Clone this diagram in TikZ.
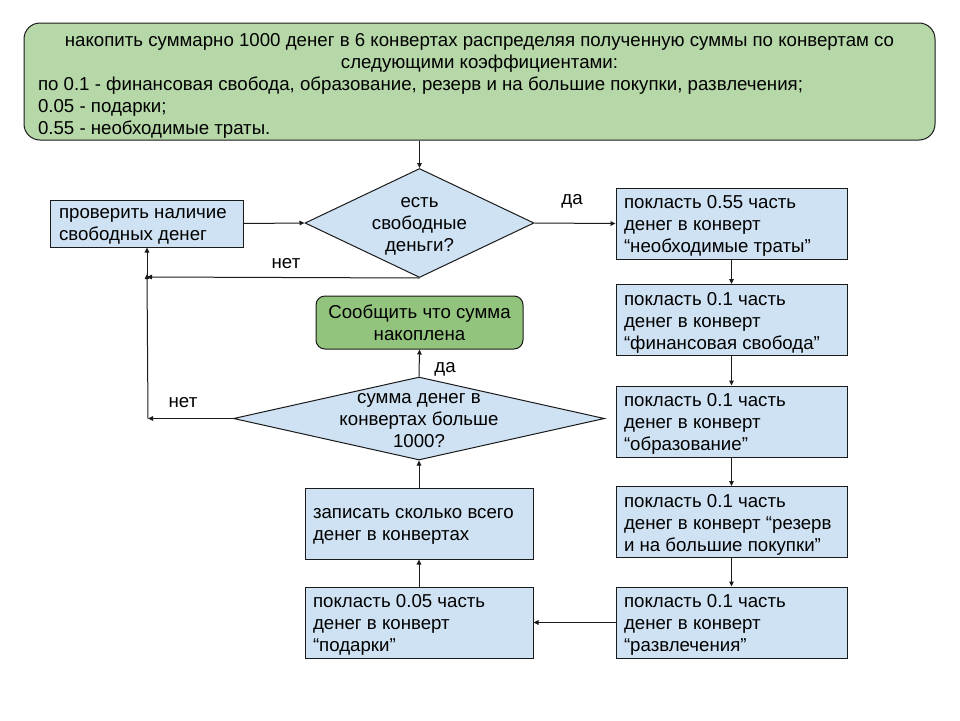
\documentclass[tikz,border=0pt]{standalone}
\usepackage{fontspec}
\setmainfont{Liberation Sans}
\usetikzlibrary{shapes.geometric,arrows.meta}
\definecolor{bluefill}{HTML}{CFE2F3}
\definecolor{greenfill}{HTML}{B6D7A8}
\definecolor{darkgreen}{HTML}{93C47D}
\definecolor{linec}{HTML}{1A1A1A}
\newcommand{\dfont}{\fontsize{18.67}{22}\selectfont}
\newcommand{\lowtext}[2]{\raisebox{-2.5pt}[\height][\depth]{\parbox{#1}{\dfont\raggedright #2}}}
\tikzset{
  every node/.style={font=\dfont},
  procbox/.style={draw=linec, line width=1pt, fill=bluefill, rectangle, inner xsep=8pt, inner ysep=0pt},
  decbox/.style={draw=linec, line width=1pt, fill=bluefill, diamond, inner sep=0pt},
  txt/.style={align=center, inner sep=0pt},
  conn/.style={draw=linec, line width=1pt, -{Triangle[length=5pt,width=4.5pt]}},
  lab/.style={inner sep=0pt},
}
\begin{document}
\begin{tikzpicture}[x=1pt,y=-1pt]
\useasboundingbox (0,0) rectangle (960,720);
\fill[white] (0,0) rectangle (960,720);

% top box
\node[draw=linec, line width=1pt, fill=greenfill, rounded corners=16pt, minimum width=911pt, minimum height=117pt, inner sep=0pt] (top) at (479.5,81.5) {};
\node[inner sep=0pt] (toptext) at (479.5,86) {\parbox{883pt}{\dfont\centering накопить суммарно 1000 денег в 6 конвертах распределяя полученную суммы по конвертам со\\ следующими коэффициентами:\par\raggedright по 0.1 - финансовая свобода, образование, резерв и на большие покупки, развлечения;\\ 0.05 - подарки;\\ 0.55 - необходимые траты.}};

% decision 1
\node[decbox, minimum width=229pt, minimum height=109pt] (d1) at (419.5,223) {};
\node[txt] (d1t) at (419.5,226) {есть\\свободные\\деньги?};

% check box
\node[procbox, minimum width=193pt, minimum height=47pt, inner xsep=9pt] (chk) at (146.5,223.5) {\lowtext{175pt}{проверить наличие\\свободных денег}};

% right column
\node[procbox, minimum width=231pt, minimum height=71pt] (b1) at (731.5,223.5) {\lowtext{215pt}{покласть 0.55 часть\\денег в конверт\\“необходимые траты”}};
\node[procbox, minimum width=231pt, minimum height=71pt] (b2) at (731.5,320) {\lowtext{215pt}{покласть 0.1 часть\\денег в конверт\\“финансовая свобода”}};
\node[procbox, minimum width=231pt, minimum height=71pt] (b3) at (731.5,421.5) {\lowtext{215pt}{покласть 0.1 часть\\денег в конверт\\“образование”}};
\node[procbox, minimum width=231pt, minimum height=71pt] (b4) at (731.5,522) {\lowtext{215pt}{покласть 0.1 часть\\денег в конверт “резерв\\и на большие покупки”}};
\node[procbox, minimum width=231pt, minimum height=71pt] (b5) at (731.5,622.5) {\lowtext{215pt}{покласть 0.1 часть\\денег в конверт\\“развлечения”}};

% left bottom column
\node[procbox, minimum width=228pt, minimum height=71pt] (gift) at (419,622.5) {\lowtext{212pt}{покласть 0.05 часть\\денег в конверт\\“подарки”}};
\node[procbox, minimum width=228pt, minimum height=71pt] (rec) at (419,523.5) {\lowtext{212pt}{записать сколько всего\\денег в конвертах}};

% decision 2
\node[decbox, minimum width=371pt, minimum height=83pt] (d2) at (419,418.5) {};
\node[txt] (d2t) at (419,421) {сумма денег в\\конвертах больше\\1000?};

% done box
\node[draw=linec, line width=1pt, fill=darkgreen, rounded corners=9pt, minimum width=207pt, minimum height=53pt, inner sep=0pt, align=center] (done) at (419.5,322.5) {Сообщить что сумма\\накоплена};

% junctions
\coordinate (j1) at (147,277);
\coordinate (j2) at (148,418.5);

% connectors
\draw[conn] (top.south -| d1.north) -- (d1.north);
\draw[conn] (chk.east) -- (d1.west);
\draw[conn] (d1.east) -- (b1.west);
\draw[conn] (d1.south) -- (j1);
\draw[conn] (j1) -- (chk.south -| j1);
\draw[conn] (b1.south) -- (b2.north);
\draw[conn] (b2.south) -- (b3.north);
\draw[conn] (b3.south) -- (b4.north);
\draw[conn] (b4.south) -- (b5.north);
\draw[conn] (b5.west) -- (gift.east);
\draw[conn] (gift.north) -- (rec.south);
\draw[conn] (rec.north) -- (d2.south);
\draw[conn] (d2.north) -- (done.south);
\draw[conn] (d2.west) -- (j2);
\draw[conn] (j2) -- ([yshift=3pt]j1);

% labels
\node[lab] (lda1) at (572,201) {да};
\node[lab] (lnet1) at (286,264) {нет};
\node[lab] (lda2) at (445,369) {да};
\node[lab] (lnet2) at (183,403) {нет};
\end{tikzpicture}
\end{document}
